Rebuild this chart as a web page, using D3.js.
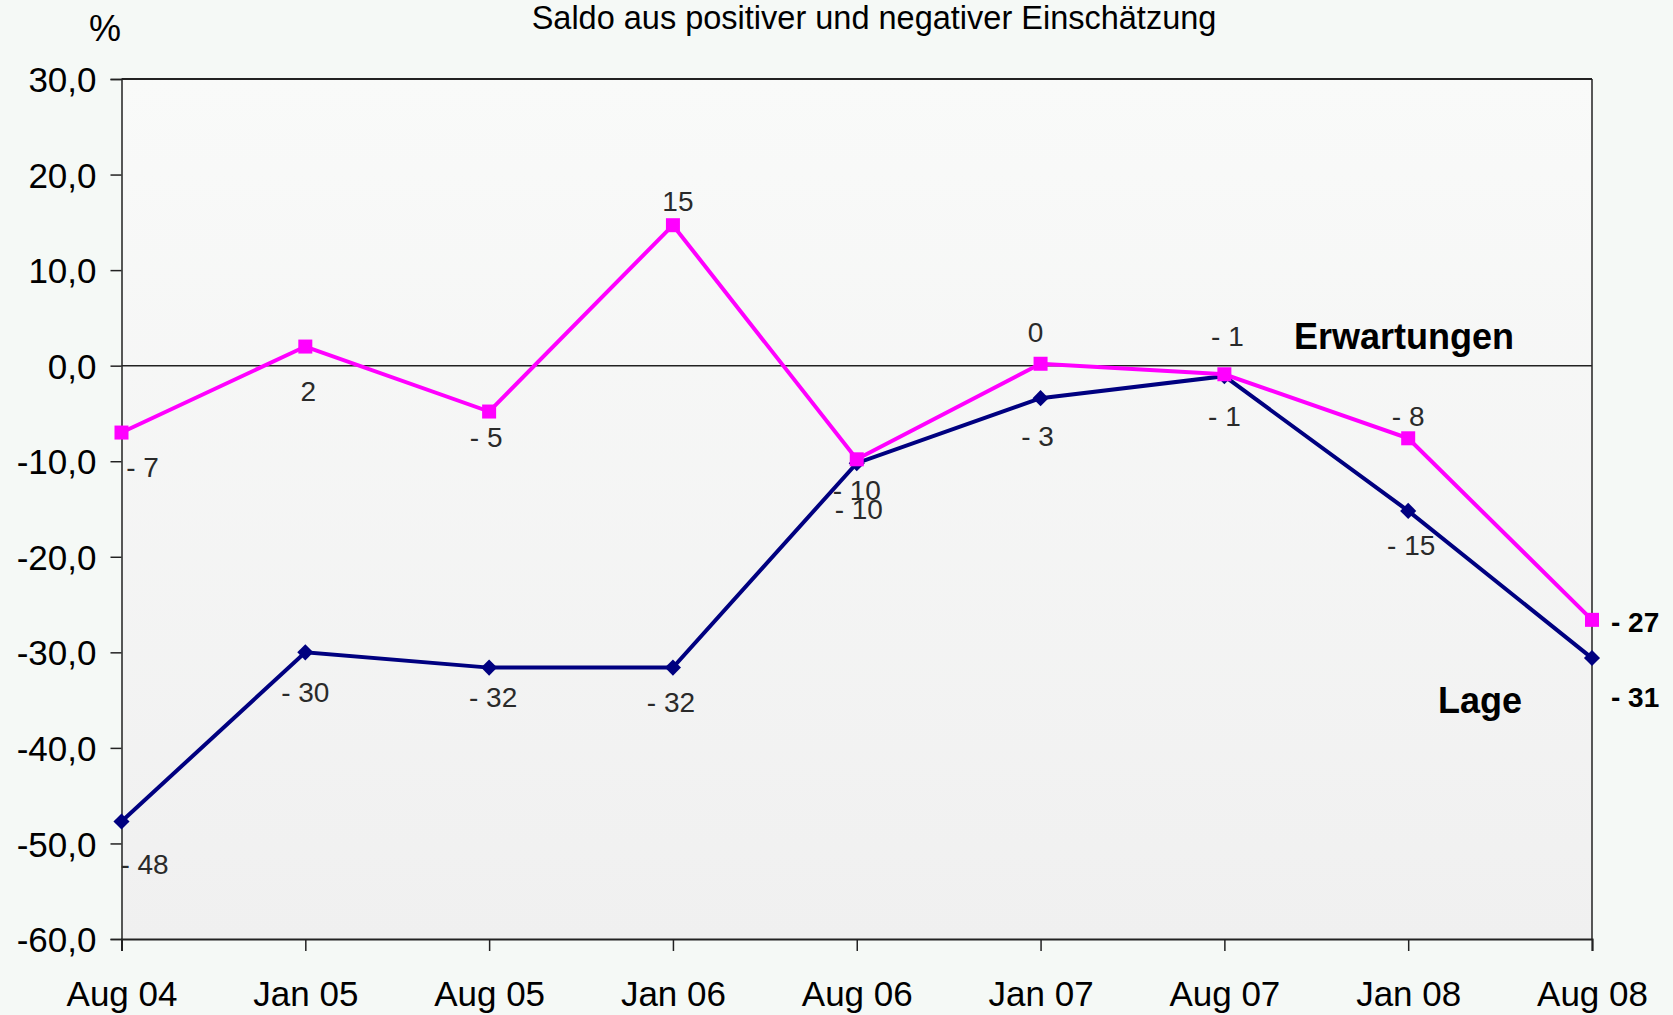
<!DOCTYPE html>
<html><head><meta charset="utf-8">
<script src="https://cdn.jsdelivr.net/npm/d3@7"></script>
<style>
html,body{margin:0;padding:0;background:#f5f9f6;}
svg{display:block;font-family:"Liberation Sans",Arial,sans-serif;}
</style></head>
<body>
<svg id="c" width="1673" height="1015"></svg>
<script>
const categories = ["Aug 04","Jan 05","Aug 05","Jan 06","Aug 06","Jan 07","Aug 07","Jan 08","Aug 08"];
const erwartungen = [-7.0, 2.0, -4.8, 14.7, -9.8, 0.2, -0.9, -7.6, -26.6];
const lage = [-47.7, -30.0, -31.6, -31.6, -10.2, -3.4, -1.1, -15.2, -30.6];
const yTicks = [30, 20, 10, 0, -10, -20, -30, -40, -50, -60];
const titleText = "Saldo aus positiver und negativer Einschätzung";
const unitText = "%";
const seriesNames = ["Erwartungen", "Lage"];
// label placement (layout only): [dx, dy] offsets in px
const erwLabelOff = [[21,35],[3,45],[-3,26],[5,-24],[0,31],[-5,-32],[3,-38],[0,-22],[null,2]];
const lageLabelOff = [[23,43],[0,40],[4,30],[-2,35],[2,46],[-3,38],[0,40],[3,34],[null,39]];

const svg = d3.select("#c");
const L = 121.5, R = 1592, T = 79, B = 939;

const x = d3.scalePoint().domain(categories).range([L, R]);
const y = d3.scaleLinear().domain([-60, 30]).range([B, T]);

// plot background gradient
const defs = svg.append("defs");
const g = defs.append("linearGradient").attr("id","bg").attr("x1",0).attr("y1",0).attr("x2",0).attr("y2",1);
g.append("stop").attr("offset","0%").attr("stop-color","#f9faf9");
g.append("stop").attr("offset","100%").attr("stop-color","#f0f0f0");
svg.append("rect").attr("x",L).attr("y",T).attr("width",R-L).attr("height",B-T).attr("fill","url(#bg)");

// frame: top and right
svg.append("line").attr("x1",L).attr("x2",R).attr("y1",T).attr("y2",T).attr("stroke","#222").attr("stroke-width",2);
svg.append("line").attr("x1",R).attr("x2",R).attr("y1",T).attr("y2",B).attr("stroke","#222").attr("stroke-width",1.5);

// y axis
const yAxis = d3.axisLeft(y).tickValues(yTicks).tickSize(11).tickPadding(14)
  .tickFormat(d => d3.format(".1f")(d).replace(".", ",").replace("\u2212", "-"));
const ya = svg.append("g").attr("transform",`translate(${L},0)`).call(yAxis);
ya.select(".domain").attr("stroke","#222").attr("stroke-width",1.5);
ya.selectAll(".tick line").attr("stroke","#222").attr("stroke-width",1.5);
ya.selectAll("text").attr("font-size",35).attr("fill","#000").attr("font-family","Liberation Sans, Arial, sans-serif").attr("dy","0.36em");

// x axis
const xAxis = d3.axisBottom(x).tickSize(12).tickPadding(30);
const xa = svg.append("g").attr("transform",`translate(0,${B})`).call(xAxis);
xa.select(".domain").attr("stroke","#222").attr("stroke-width",2);
xa.selectAll(".tick line").attr("stroke","#222").attr("stroke-width",1.5);
xa.selectAll("text").attr("font-size",35).attr("fill","#000").attr("font-family","Liberation Sans, Arial, sans-serif");

// zero line
svg.append("line").attr("x1",L).attr("x2",R).attr("y1",y(0)).attr("y2",y(0)).attr("stroke","#222").attr("stroke-width",1.5);

const line = d3.line().x((d,i)=>x(categories[i])).y(d=>y(d));

// Lage (navy)
svg.append("path").datum(lage).attr("d",line).attr("fill","none").attr("stroke","#000080").attr("stroke-width",4);
const diaType = d3.symbolDiamond2 || d3.symbolDiamond;
svg.selectAll(".dia").data(lage).enter().append("path")
  .attr("transform",(d,i)=>`translate(${x(categories[i])},${y(d)})`)
  .attr("d",d3.symbol(diaType, 165)).attr("fill","#000080");

// Erwartungen (magenta)
svg.append("path").datum(erwartungen).attr("d",line).attr("fill","none").attr("stroke","#ff00ff").attr("stroke-width",4);
svg.selectAll(".sq").data(erwartungen).enter().append("rect")
  .attr("x",(d,i)=>x(categories[i])-7).attr("y",d=>y(d)-7).attr("width",14).attr("height",14).attr("fill","#ff00ff");

const fmt = v => { const r = Math.round(v); return r < 0 ? "- " + Math.abs(r) : String(r); };
function labels(data, off){
  data.forEach((v,i)=>{
    const last = off[i][0] === null;
    svg.append("text")
      .attr("x", last ? x(categories[i]) + 19 : x(categories[i]) + off[i][0])
      .attr("y", y(v) + off[i][1])
      .attr("dy","0.35em")
      .attr("text-anchor", last ? "start" : "middle")
      .attr("font-size", 28)
      .attr("font-weight", last ? "bold" : "normal")
      .attr("fill", last ? "#000" : "#2a2a2a")
      .text(fmt(v));
  });
}
labels(erwartungen, erwLabelOff);
labels(lage, lageLabelOff);

// series names
svg.append("text").attr("x",1294).attr("y",349).attr("font-size",36).attr("font-weight","bold").attr("fill","#000").text(seriesNames[0]);
svg.append("text").attr("x",1438).attr("y",713).attr("font-size",36).attr("font-weight","bold").attr("fill","#000").text(seriesNames[1]);

// title and unit
svg.append("text").attr("x",874).attr("y",29).attr("text-anchor","middle").attr("font-size",32.5).attr("fill","#000").text(titleText);
svg.append("text").attr("x",105).attr("y",41).attr("text-anchor","middle").attr("font-size",36).attr("fill","#000").text(unitText);
</script>
</body></html>
